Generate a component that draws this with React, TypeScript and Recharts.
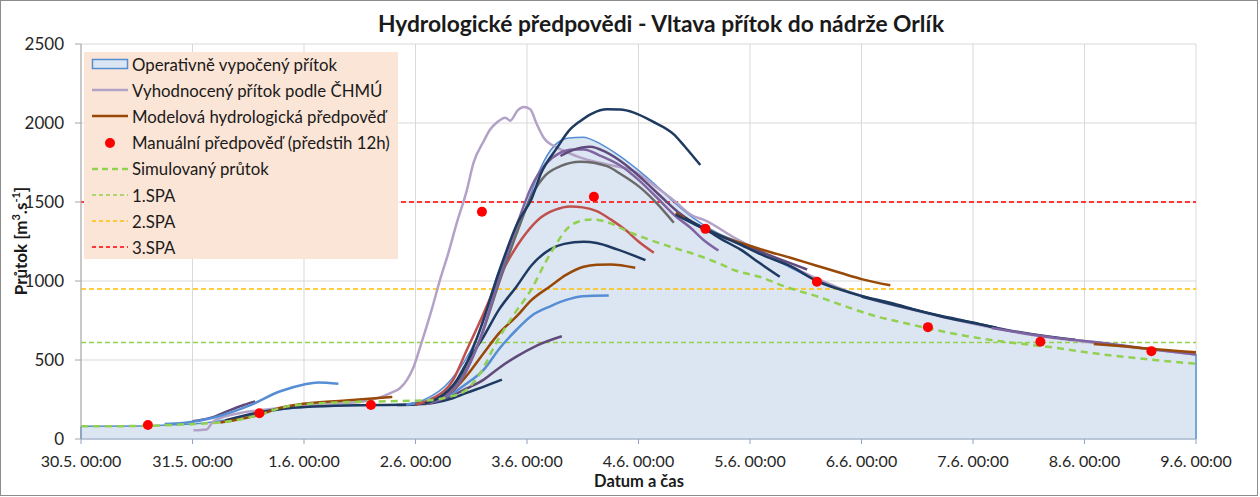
import React from "react";
import {
  ComposedChart,
  Area,
  Line,
  XAxis,
  YAxis,
  CartesianGrid,
  ReferenceLine,
} from "recharts";

type Pt = [number, number];

// x = hours since 30.5. 00:00
const hourTicks = [0, 24, 48, 72, 96, 120, 144, 168, 192, 216, 240];
const dayLabels = [
  "30.5. 00:00",
  "31.5. 00:00",
  "1.6. 00:00",
  "2.6. 00:00",
  "3.6. 00:00",
  "4.6. 00:00",
  "5.6. 00:00",
  "6.6. 00:00",
  "7.6. 00:00",
  "8.6. 00:00",
  "9.6. 00:00",
];
const flowTicks = [0, 500, 1000, 1500, 2000, 2500];

const spa1 = 610;
const spa2 = 950;
const spa3 = 1500;

const operativniPritok: Pt[] = [
  [0, 80], [12, 82], [20, 90], [26, 100], [32, 125], [38, 160], [44, 190],
  [50, 205], [60, 215], [70, 220], [74, 250], [79.5, 370], [85, 630],
  [90, 1070], [93, 1280], [96, 1485], [99, 1720], [102, 1860], [105, 1905],
  [108, 1910], [112, 1865], [116, 1790], [120, 1700], [124, 1600],
  [128, 1490], [132, 1395], [136, 1320], [142, 1240], [150, 1125],
  [158, 1010], [164, 945], [174, 860], [185, 780], [198, 695], [209, 642],
  [219, 612], [230, 570], [240, 538],
];

const chmuPritok: Pt[] = [
  [24.2, 55], [27, 60], [28.5, 112], [34.3, 165], [40, 186], [50, 217],
  [60.8, 238], [64, 260], [66.6, 291], [68.7, 323], [70.2, 376], [71.5, 450],
  [73.3, 610], [75.5, 820], [77.3, 1010], [79, 1170], [80.9, 1369],
  [83, 1569], [84.5, 1749], [86.7, 1886], [88.1, 1960], [89.5, 2003],
  [91.3, 2034], [92.4, 2015], [94, 2080], [95.3, 2101], [96.7, 2087],
  [98, 2000], [99.6, 1907], [102.5, 1844], [105, 1810], [107.5, 1781],
  [113.2, 1738], [119, 1696], [124, 1591], [128, 1500], [131.2, 1421],
  [134.7, 1379], [140, 1285], [150, 1135], [160, 995], [170, 885],
  [180, 810], [192, 730], [204, 662], [216, 616], [228, 574], [240, 534],
];

// Modelové hydrologické předpovědi (jednotlivé běhy)
const predpoved01: Pt[] = [[24, 112], [28, 135], [31.4, 175], [35, 215], [37.5, 238]];
const predpoved02: Pt[] = [
  [18, 95], [22, 102], [28.5, 135], [35.8, 206], [42.9, 302], [48, 345], [51, 358], [55.4, 350],
];
const predpoved03: Pt[] = [
  [30, 105], [34, 125], [38.6, 154], [42, 190], [46.5, 217], [57, 243], [67, 266],
];
const predpoved04: Pt[] = [
  [31, 118], [39, 172], [44, 193], [50, 205], [60, 214], [70, 216], [74, 232], [76, 262],
];
const predpoved05: Pt[] = [
  [68, 215], [72, 219], [76, 230], [80, 258], [83, 292], [87, 335], [90.6, 376],
];
const predpoved06: Pt[] = [
  [70, 218], [75, 235], [79.5, 270], [83, 320], [86.7, 376], [90, 450], [93.8, 523], [98, 590], [103.5, 650],
];
const predpoved07: Pt[] = [
  [70, 218], [75, 240], [79.5, 281], [83, 350], [86.7, 439], [90, 570], [93.8, 693], [97, 780],
  [101, 840], [105, 885], [108, 904], [113.6, 908],
];
const predpoved08: Pt[] = [
  [72, 220], [76, 245], [79.5, 292], [83, 400], [86.7, 545], [90, 670], [93.8, 777], [97, 880],
  [101, 967], [104.5, 1040], [108.2, 1090], [111, 1103], [114, 1105], [119.3, 1084],
];
const predpoved09: Pt[] = [
  [72, 220], [76, 250], [80, 330], [83, 480], [86.7, 650], [90, 820], [93.8, 967], [97, 1100],
  [101, 1200], [104, 1235], [108.2, 1248], [111, 1240], [115.4, 1200], [121.5, 1132],
];
const predpoved10: Pt[] = [
  [72, 220], [76, 260], [80, 370], [83, 560], [86.7, 798], [90, 1020], [93.8, 1220], [96, 1310],
  [98.9, 1400], [102, 1450], [105.3, 1472], [108, 1466], [111, 1442], [114, 1390], [117.5, 1316],
  [120, 1250], [123.3, 1179],
];
const predpoved11: Pt[] = [
  [74, 222], [78, 265], [82, 390], [86, 640], [90, 990], [94, 1320], [97, 1540], [100, 1670],
  [103.2, 1727], [107.5, 1755], [113.2, 1727], [116, 1680], [120.4, 1591], [124, 1490], [127.6, 1369],
];
const predpoved12: Pt[] = [
  [74, 222], [78, 260], [82, 380], [86, 640], [90, 1020], [94, 1370], [97, 1600], [100, 1740],
  [103, 1810], [106, 1833], [108.2, 1833], [112, 1790], [116.8, 1717], [120, 1640], [124, 1527],
  [128, 1410], [131.2, 1337], [134, 1260], [137.2, 1193],
];
const predpoved13: Pt[] = [
  [74, 225], [78, 280], [82, 420], [86, 700], [90, 1060], [94, 1370], [97, 1520], [99, 1680],
  [102.5, 1844], [105, 1950], [107.5, 2013], [110, 2060], [113.2, 2087], [116, 2085], [119, 2066],
  [123, 2010], [127.6, 1928], [130, 1850], [133.3, 1734],
];
const predpoved14: Pt[] = [
  [103.2, 1791], [106, 1830], [109.6, 1850], [113, 1815], [117, 1740], [121, 1640], [125, 1530],
  [129, 1425], [133, 1345], [137, 1290], [142, 1235], [148, 1165], [156.3, 1073],
];
const predpoved15: Pt[] = [
  [128, 1430], [132, 1365], [134.4, 1331], [138, 1282], [141.9, 1242], [147, 1195], [152.7, 1147],
  [158, 1100], [163.4, 1052], [168, 1012], [174.2, 973],
];
const predpoved16: Pt[] = [
  [128, 1420], [132, 1360], [134.4, 1326], [138, 1262], [141.9, 1200], [146, 1115], [150.4, 1027],
];
const predpoved17: Pt[] = [
  [130, 1400], [134.4, 1330], [141.9, 1231], [147, 1160], [152.7, 1094], [158.4, 1000],
  [163.4, 946], [168, 905], [174.2, 862], [180, 815], [185, 777], [191, 740], [197, 705],
];
const predpoved18: Pt[] = [
  [168, 900], [176, 842], [185, 780], [192, 738], [198, 698], [209, 645], [214, 628],
];
const predpoved19: Pt[] = [
  [196, 702], [204, 665], [210, 640], [220, 608], [230, 570], [240, 534],
];
const predpoved20: Pt[] = [[218, 602], [225, 585], [232, 566], [240, 549]];

const simulovanyPrutok: Pt[] = [
  [0, 80], [12, 82], [21.4, 91], [32, 112], [38, 150], [42.9, 196], [50, 224], [64.4, 238],
  [75, 245], [79, 265], [83, 312], [86, 420], [89.4, 610], [93, 780], [97, 950], [100, 1120],
  [102, 1220], [104.6, 1330], [107, 1375], [110, 1390], [114, 1365], [117.5, 1316], [122, 1265],
  [127.6, 1210], [133, 1160], [137, 1115], [141, 1065], [146, 1027], [152, 960], [158.7, 900],
  [165, 835], [171.4, 774], [176.4, 740], [184, 690], [190, 655], [197.5, 620], [209, 580],
  [220, 535], [230, 503], [240, 476],
];

const manualniPredpoved: Pt[] = [
  [14.4, 89], [38.4, 163], [62.4, 215], [86.3, 1438], [110.4, 1533],
  [134.4, 1330], [158.4, 996], [182.3, 708], [206.5, 615], [230.4, 556],
];

const NAVY = "#1F3A60";
const LBLUE = "#558ED5";
const BROWN = "#984807";
const RED = "#C0504D";
const GREY = "#6A6A6A";
const PURPLE = "#8064A2";
const DPURPLE = "#604A7B";

const forecasts: { data: Pt[]; color: string }[] = [
  { data: predpoved04, color: NAVY },
  { data: predpoved01, color: DPURPLE },
  { data: predpoved02, color: LBLUE },
  { data: predpoved03, color: BROWN },
  { data: predpoved05, color: NAVY },
  { data: predpoved06, color: DPURPLE },
  { data: predpoved07, color: LBLUE },
  { data: predpoved08, color: BROWN },
  { data: predpoved09, color: NAVY },
  { data: predpoved10, color: RED },
  { data: predpoved11, color: GREY },
  { data: predpoved12, color: PURPLE },
  { data: predpoved13, color: NAVY },
  { data: predpoved14, color: DPURPLE },
  { data: predpoved15, color: BROWN },
  { data: predpoved16, color: NAVY },
  { data: predpoved17, color: NAVY },
  { data: predpoved18, color: NAVY },
  { data: predpoved19, color: PURPLE },
  { data: predpoved20, color: BROWN },
];

const rows = (pts: Pt[]) => pts.map(([t, v]) => ({ t, v }));

const firstOp = operativniPritok[0];
const lastOp = operativniPritok[operativniPritok.length - 1];

const FONT = "Lato, 'Noto Sans', sans-serif";

const legendItems = [
  { label: "Operativně vypočený přítok", kind: "area" },
  { label: "Vyhodnocený přítok podle ČHMÚ", kind: "line", color: "#B3A2C7" },
  { label: "Modelová hydrologická předpověď", kind: "line", color: BROWN },
  { label: "Manuální předpověď (předstih 12h)", kind: "dot" },
  { label: "Simulovaný průtok", kind: "dash", color: "#92D050", w: 2.5, dash: "6 4" },
  { label: "1.SPA", kind: "dash", color: "#92D050", w: 1.5, dash: "4 3" },
  { label: "2.SPA", kind: "dash", color: "#FFC000", w: 1.5, dash: "4 3" },
  { label: "3.SPA", kind: "dash", color: "#FF0000", w: 1.5, dash: "4 3" },
];

function LegendBox() {
  return (
    <div
      style={{
        position: "absolute",
        left: 84,
        top: 52,
        width: 314,
        height: 207,
        background: "#FBE5D6",
      }}
    >
      {legendItems.map((it, i) => (
        <div
          key={i}
          style={{
            position: "absolute",
            left: 0,
            top: 1 + i * 26.2,
            height: 22,
            display: "flex",
            alignItems: "center",
          }}
        >
          <svg width={48} height={22} style={{ display: "block" }}>
            {it.kind === "area" && (
              <rect x={8.5} y={6.5} width={35} height={9} fill="#DCE6F2" stroke={LBLUE} strokeWidth={1.5} />
            )}
            {it.kind === "line" && (
              <line x1={8} x2={44} y1={11} y2={11} stroke={it.color} strokeWidth={2.5} />
            )}
            {it.kind === "dot" && <circle cx={26} cy={11} r={5} fill="#FF0000" />}
            {it.kind === "dash" && (
              <line x1={8} x2={44} y1={11} y2={11} stroke={it.color} strokeWidth={it.w} strokeDasharray={it.dash} />
            )}
          </svg>
          <span style={{ fontFamily: FONT, fontSize: 16.8, color: "#1A1A1A", whiteSpace: "nowrap" }}>
            {it.label}
          </span>
        </div>
      ))}
    </div>
  );
}

export default function App() {
  return (
    <div
      style={{
        position: "fixed",
        left: 0,
        top: 0,
        width: 1260,
        height: 497,
        background: "#FFFFFF",
        fontFamily: FONT,
        overflow: "hidden",
      }}
    >
      <div
        style={{
          position: "absolute",
          left: 0,
          top: 0,
          width: 1256,
          height: 494,
          border: "1px solid #8C8C8C",
        }}
      />
      <div
        style={{
          position: "absolute",
          left: 661,
          top: 9,
          transform: "translateX(-50%)",
          fontSize: 22.8,
          fontWeight: 700,
          color: "#1A1A1A",
          whiteSpace: "nowrap",
        }}
      >
        Hydrologické předpovědi - Vltava přítok do nádrže Orlík
      </div>
      <ComposedChart
        width={1260}
        height={497}
        margin={{ top: 44, right: 64, bottom: 28, left: 0 }}
        style={{ position: "absolute", left: 0, top: 0 }}
      >
        <CartesianGrid stroke="#D9D9D9" strokeWidth={1} />
        <XAxis
          type="number"
          dataKey="t"
          domain={[0, 240]}
          ticks={hourTicks}
          tickFormatter={(v: number) => dayLabels[hourTicks.indexOf(v)] ?? ""}
          interval={0}
          height={30}
          tickSize={5}
          tickMargin={12}
          stroke="#8EA4C2"
          tick={{ fontFamily: FONT, fontSize: 16, fill: "#262626" }}
          allowDataOverflow
        />
        <YAxis
          type="number"
          dataKey="v"
          domain={[0, 2500]}
          ticks={flowTicks}
          width={81}
          tickSize={6}
          tickMargin={11}
          stroke="#A6A6A6"
          tick={{ fontFamily: FONT, fontSize: 17, fill: "#262626" }}
          allowDataOverflow
        />
        <Area
          data={rows(operativniPritok)}
          dataKey="v"
          type="monotone"
          stroke={LBLUE}
          strokeWidth={1.5}
          fill="#DCE6F2"
          fillOpacity={1}
          isAnimationActive={false}
        />
        <ReferenceLine
          segment={[{ x: firstOp[0], y: 0 }, { x: firstOp[0], y: firstOp[1] }]}
          stroke={LBLUE}
          strokeWidth={1.5}
        />
        <ReferenceLine
          segment={[{ x: lastOp[0], y: 0 }, { x: lastOp[0], y: lastOp[1] }]}
          stroke={LBLUE}
          strokeWidth={1.5}
        />
        <ReferenceLine y={spa1} stroke="#92D050" strokeWidth={1.5} strokeDasharray="5 3" />
        <ReferenceLine y={spa2} stroke="#FFC000" strokeWidth={1.5} strokeDasharray="5 3" />
        <ReferenceLine y={spa3} stroke="#FF0000" strokeWidth={1.5} strokeDasharray="5 3" />
        <Line
          data={rows(chmuPritok)}
          dataKey="v"
          type="monotone"
          stroke="#B3A2C7"
          strokeWidth={2.5}
          dot={false}
          isAnimationActive={false}
        />
        {forecasts.map((f, i) => (
          <Line
            key={i}
            data={rows(f.data)}
            dataKey="v"
            type="monotone"
            stroke={f.color}
            strokeWidth={2.5}
            dot={false}
            isAnimationActive={false}
          />
        ))}
        <Line
          data={rows(simulovanyPrutok)}
          dataKey="v"
          type="monotone"
          stroke="#92D050"
          strokeWidth={2.5}
          strokeDasharray="7 5"
          dot={false}
          isAnimationActive={false}
        />
        <Line
          data={rows(manualniPredpoved)}
          dataKey="v"
          stroke="none"
          dot={{ r: 5, fill: "#FF0000", stroke: "none" }}
          isAnimationActive={false}
        />
      </ComposedChart>
      <LegendBox />
      <div
        style={{
          position: "absolute",
          left: 639,
          top: 471,
          transform: "translateX(-50%)",
          fontSize: 16.5,
          fontWeight: 700,
          color: "#1A1A1A",
          whiteSpace: "nowrap",
        }}
      >
        Datum a čas
      </div>
      <div
        style={{
          position: "absolute",
          left: 20,
          top: 241,
          transform: "translate(-50%, -50%) rotate(-90deg)",
          fontSize: 17,
          fontWeight: 700,
          color: "#1A1A1A",
          whiteSpace: "nowrap",
        }}
      >
        Průtok [m<sup style={{ fontSize: 11 }}>3</sup>.s<sup style={{ fontSize: 11 }}>-1</sup>]
      </div>
    </div>
  );
}
